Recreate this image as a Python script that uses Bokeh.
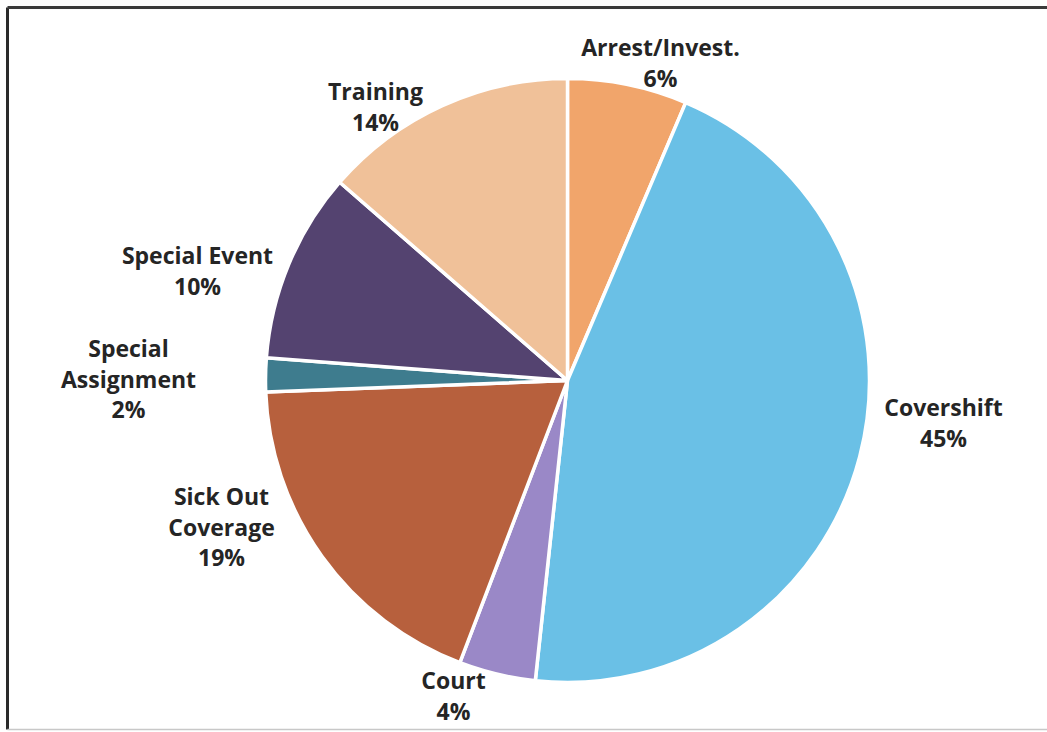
import math
from bokeh.plotting import figure
from bokeh.models import Range1d, ColumnDataSource
from bokeh.core.properties import value
from bokeh.embed import file_html
from bokeh.resources import INLINE

# ---- data ----
categories = ["Arrest/Invest.", "Covershift", "Court", "Sick Out\nCoverage",
              "Special\nAssignment", "Special Event", "Training"]
percents = [6.4, 45.3, 4.1, 18.6, 1.8, 10.2, 13.6]   # slice sizes
labels_pct = ["6%", "45%", "4%", "19%", "2%", "10%", "14%"]
colors = ["#F1A56B", "#6AC0E6", "#9A88C7", "#B7603D", "#3E7C8E", "#544370", "#F0C199"]

# ---- layout (figure pixels) ----
W, H = 1047, 732
CX, CY, R = 567, 352, 302
# label block centres (x, y in pixels measured from the top)
label_pos = [(660, 62), (943, 422), (453, 695), (221, 526), (128, 378), (197, 270), (375, 106)]
LINE_H = 30.5

p = figure(width=W, height=H, output_backend="svg", toolbar_location=None,
           x_range=Range1d(0, W), y_range=Range1d(0, H), min_border=0)
p.axis.visible = False
p.grid.visible = False
p.outline_line_color = None
p.background_fill_color = "white"
p.border_fill_color = "white"

total = sum(percents)
starts, ends = [], []
cum = 0.0
for v in percents:
    starts.append(math.pi / 2 - 2 * math.pi * cum / total)
    cum += v
    ends.append(math.pi / 2 - 2 * math.pi * cum / total)

src = ColumnDataSource(dict(x=[CX] * len(percents), y=[CY] * len(percents),
                            start=starts, end=ends, color=colors))
p.wedge(x="x", y="y", radius=R, start_angle="start", end_angle="end",
        direction="clock", fill_color="color", line_color="white", line_width=3.5,
        source=src)

# labels
tx, ty, tt = [], [], []
for cat, pct, (lx, ly) in zip(categories, labels_pct, label_pos):
    lines = cat.split("\n") + [pct]
    n = len(lines)
    for i, t in enumerate(lines):
        yy = ly + (i - (n - 1) / 2) * LINE_H
        tx.append(lx)
        ty.append(H - yy)
        tt.append(t)
p.text(x=tx, y=ty, text=tt, text_align="center", text_baseline="middle",
       text_font=value("Open Sans"), text_font_style="bold", text_font_size="23px",
       text_color="#252525")

# frame border (left, top, bottom)
p.segment(x0=[7, 7, 7], y0=[H - 7, H - 7, H - 729], x1=[7, W, W], y1=[H - 729, H - 7, H - 729],
          line_color=["#2a2a2a", "#3a3a3a", "#c8c8c8"], line_width=[3, 3, 1.5])

open("out.html", "w").write(file_html(p, INLINE))
